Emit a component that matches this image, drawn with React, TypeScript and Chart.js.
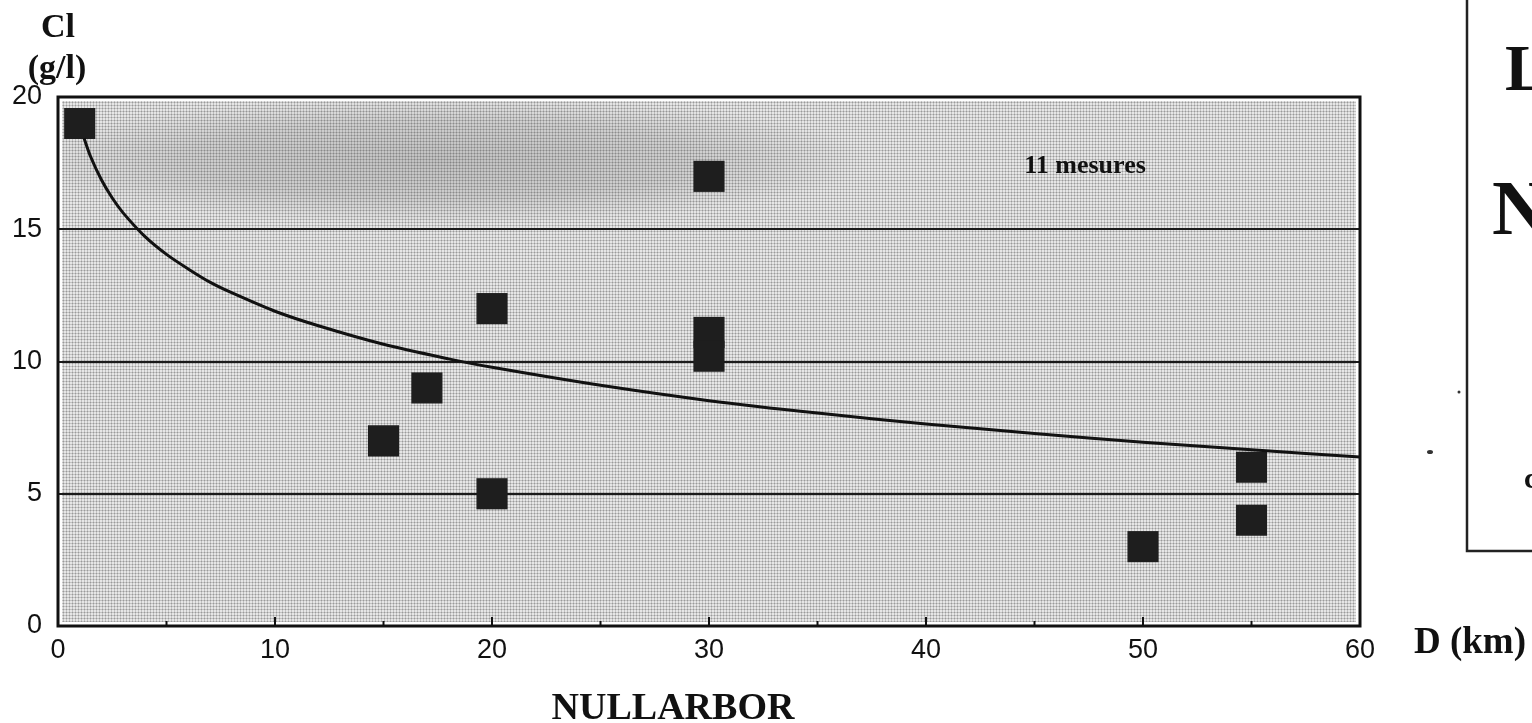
import React, { useEffect, useRef } from "react";
import { Chart, registerables } from "chart.js";

Chart.register(...registerables);

// Measurements (D in km, Cl in g/l)
const pointX = [1, 15, 17, 20, 20, 30, 30, 30, 50, 55, 55];
const pointY = [19, 7, 9, 12, 5, 17, 11.1, 10.2, 3, 6, 4];

// Trend curve
const curveX = [1.2, 1.5, 2, 2.5, 3, 4, 5, 6, 7, 8, 10, 12, 15, 18, 20, 25, 30, 35, 40, 45, 50, 55, 60];
const curveY = [18.44, 17.75, 16.87, 16.18, 15.62, 14.73, 14.05, 13.5, 13.0, 12.6, 11.9, 11.35, 10.65, 10.1, 9.78, 9.1, 8.52, 8.05, 7.64, 7.28, 6.95, 6.66, 6.39];

const xTicks = [0, 10, 20, 30, 40, 50, 60];
const yTicks = [0, 5, 10, 15, 20];
const minorXTicks = [5, 10, 15, 20, 25, 30, 35, 40, 45, 50, 55];

const SERIF = '"Liberation Serif", "Times New Roman", serif';
const SANS = '"Liberation Sans", Arial, sans-serif';

function makePattern(ctx: CanvasRenderingContext2D) {
  const c = document.createElement("canvas");
  c.width = 3;
  c.height = 3;
  const p = c.getContext("2d")!;
  p.fillStyle = "#e6e6e6";
  p.fillRect(0, 0, 3, 3);
  p.fillStyle = "#c2c2c2";
  p.fillRect(0, 0, 1, 3);
  p.fillRect(0, 0, 3, 1);
  p.fillStyle = "#9a9a9a";
  p.fillRect(0, 0, 1, 1);
  return ctx.createPattern(c, "repeat");
}

const decorPlugin = {
  id: "decor",
  beforeDraw(chart: any) {
    const { ctx, chartArea: a } = chart;
    ctx.save();
    ctx.fillStyle = "#ffffff";
    ctx.fillRect(0, 0, chart.width, chart.height);
    const pat = makePattern(ctx);
    if (pat) {
      ctx.fillStyle = pat;
      ctx.fillRect(a.left + 4, a.top + 4, a.right - a.left - 8, a.bottom - a.top - 8);
    }
    // darker blotch in the upper band
    ctx.save();
    ctx.beginPath();
    ctx.rect(a.left + 4, a.top + 4, a.right - a.left - 8, a.bottom - a.top - 8);
    ctx.clip();
    const cx = 440, cy = 160;
    ctx.translate(cx, cy);
    ctx.scale(1, 0.15);
    const g = ctx.createRadialGradient(0, 0, 0, 0, 0, 430);
    g.addColorStop(0, "rgba(60,60,60,0.22)");
    g.addColorStop(0.6, "rgba(60,60,60,0.14)");
    g.addColorStop(1, "rgba(60,60,60,0)");
    ctx.fillStyle = g;
    ctx.beginPath();
    ctx.arc(0, 0, 430, 0, Math.PI * 2);
    ctx.fill();
    ctx.restore();
    ctx.restore();
  },
  afterDraw(chart: any) {
    const { ctx, chartArea: a, scales } = chart;
    ctx.save();
    // frame
    ctx.strokeStyle = "#111";
    ctx.lineWidth = 3;
    ctx.strokeRect(a.left, a.top, a.right - a.left, a.bottom - a.top);
    // inner ticks on x axis
    ctx.lineWidth = 2;
    minorXTicks.forEach((v) => {
      const x = scales.x.getPixelForValue(v);
      const len = v % 10 === 0 ? 9 : 5;
      ctx.beginPath();
      ctx.moveTo(x, a.bottom);
      ctx.lineTo(x, a.bottom - len);
      ctx.stroke();
    });
    // texts
    ctx.fillStyle = "#111";
    ctx.textAlign = "center";
    ctx.textBaseline = "alphabetic";
    ctx.font = `bold 34px ${SERIF}`;
    ctx.fillText("Cl", 58, 37);
    ctx.fillText("(g/l)", 57, 78);
    ctx.font = `bold 26px ${SERIF}`;
    ctx.fillText("11 mesures", 1085, 173);
    ctx.font = `bold 38px ${SERIF}`;
    ctx.fillText("NULLARBOR", 673, 719);
    ctx.textAlign = "left";
    ctx.font = `bold 37px ${SERIF}`;
    ctx.fillText("D (km)", 1414, 653);
    // neighbouring framed panel (cut off at page edge)
    ctx.strokeStyle = "#222";
    ctx.lineWidth = 2.5;
    ctx.beginPath();
    ctx.moveTo(1467, 0);
    ctx.lineTo(1467, 551);
    ctx.lineTo(1540, 551);
    ctx.stroke();
    ctx.font = `bold 66px ${SERIF}`;
    ctx.fillText("L", 1505, 90);
    ctx.font = `bold 78px ${SERIF}`;
    ctx.fillText("N", 1492, 234);
    ctx.font = `bold 30px ${SERIF}`;
    ctx.fillText("c", 1524, 488);
    // small specks
    ctx.fillStyle = "#333";
    ctx.beginPath();
    ctx.arc(1459, 392, 1.5, 0, Math.PI * 2);
    ctx.fill();
    ctx.beginPath();
    ctx.ellipse(1430, 452, 3, 2, 0, 0, Math.PI * 2);
    ctx.fill();
    ctx.restore();
  },
};

export default function App() {
  const ref = useRef<HTMLCanvasElement | null>(null);
  useEffect(() => {
    if (!ref.current) return;
    const chart = new Chart(ref.current, {
      type: "scatter",
      data: {
        datasets: [
          {
            type: "line",
            label: "curve",
            data: curveX.map((x, i) => ({ x, y: curveY[i] })),
            borderColor: "#111",
            borderWidth: 3,
            pointRadius: 0,
            fill: false,
            tension: 0.3,
          } as any,
          {
            type: "scatter",
            label: "mesures",
            data: pointX.map((x, i) => ({ x, y: pointY[i] })),
            pointStyle: "rect",
            pointRadius: 22,
            pointHoverRadius: 22,
            backgroundColor: "#1e1e1e",
            borderColor: "#1e1e1e",
            borderWidth: 0,
          } as any,
        ],
      },
      options: {
        animation: false,
        responsive: false,
        events: [],
        layout: { padding: { top: 97, right: 172, left: 0, bottom: 0 } },
        plugins: {
          legend: { display: false },
          tooltip: { enabled: false },
          title: { display: false },
        },
        scales: {
          x: {
            type: "linear",
            min: 0,
            max: 60,
            afterFit: (s: any) => {
              s.height = 97;
            },
            afterBuildTicks: (s: any) => {
              s.ticks = xTicks.map((v) => ({ value: v }));
            },
            ticks: {
              padding: 8,
              color: "#111",
              font: { family: SANS, size: 27 },
            },
            grid: { display: true, drawOnChartArea: false, drawTicks: false, color: "rgba(0,0,0,0)" },
            border: { display: false },
          },
          y: {
            type: "linear",
            min: 0,
            max: 20,
            afterFit: (s: any) => {
              s.width = 58;
            },
            afterBuildTicks: (s: any) => {
              s.ticks = yTicks.map((v) => ({ value: v }));
            },
            ticks: {
              padding: 16,
              color: "#111",
              font: { family: SANS, size: 27 },
            },
            grid: {
              drawTicks: false,
              lineWidth: 2,
              color: (c: any) => (c.tick && (c.tick.value === 0 || c.tick.value === 20) ? "rgba(0,0,0,0)" : "#1a1a1a"),
            },
            border: { display: false },
          },
        },
      },
      plugins: [decorPlugin],
    });
    return () => chart.destroy();
  }, []);
  return (
    <div style={{ position: "absolute", left: 0, top: 0, width: 1532, height: 723 }}>
      <canvas ref={ref} width={1532} height={723} style={{ display: "block" }} />
    </div>
  );
}
